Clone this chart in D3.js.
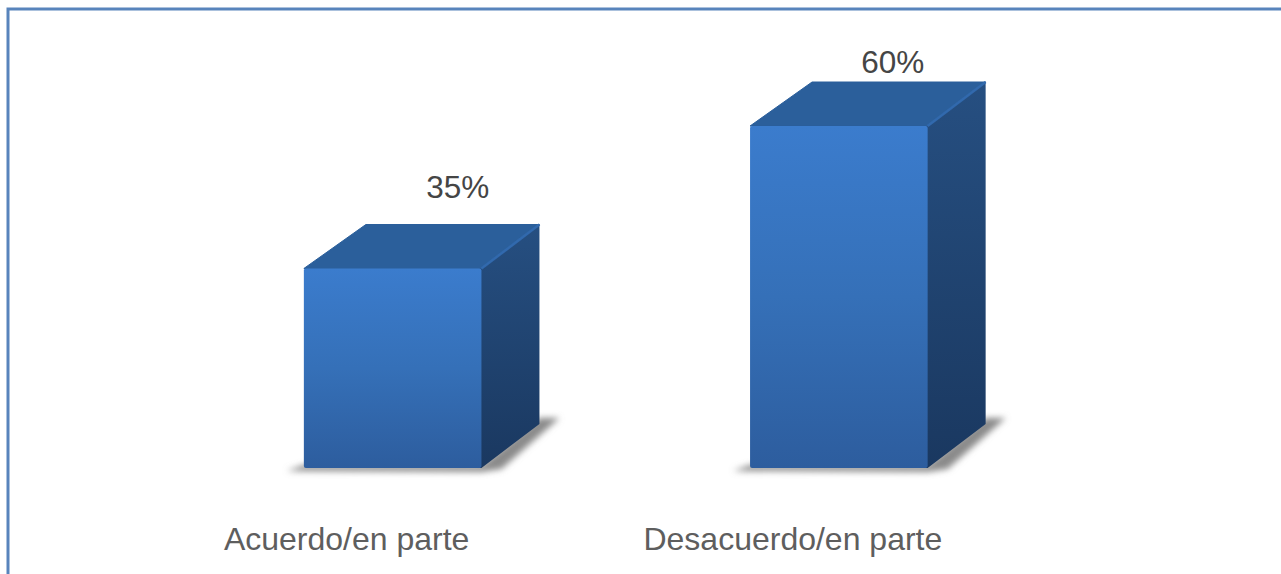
<!DOCTYPE html>
<html>
<head>
<meta charset="utf-8">
<script src="https://cdn.jsdelivr.net/npm/d3@7"></script>
<style>
  html, body { margin: 0; padding: 0; background: #fff; overflow: hidden; }
  text { font-family: "Liberation Sans", Arial, sans-serif; }
</style>
</head>
<body>
<script>
'use strict';

const categories = ["Acuerdo/en parte", "Desacuerdo/en parte"];
const percents = [35, 60];

(function() {

  const width = 1281, height = 574;
  const depthX = 58, depthY = 44; // how far the 3d box goes back
  const labelShift = -46;         // category labels sit left of the boxes
  // the two value labels don't sit at the same place over their boxes
  const valueLabelX = [65, 54];
  const valueLabelY = [198, 73];

  const svg = d3.select('body')
    .append('svg')
    .attr('width', width)
    .attr('height', height)
    .style('display', 'block');

  const defs = svg.append('defs');

  function addGradient(id, stops) {
    const g = defs.append('linearGradient')
      .attr('id', id)
      .attr('x1', 0).attr('y1', 0)
      .attr('x2', 0).attr('y2', 1);
    stops.forEach((s) => {
      g.append('stop').attr('offset', s[0]).attr('stop-color', s[1]);
    });
  }
  addGradient('frontFill', [[0, '#3b7ccd'], [0.5, '#3570b8'], [1, '#2d5d9e']]);
  addGradient('sideFill', [[0, '#264f81'], [1, '#1a3860']]);

  defs.append('filter')
    .attr('id', 'shadowBlur')
    .attr('x', '-20%').attr('y', '-20%')
    .attr('width', '140%').attr('height', '140%')
    .append('feGaussianBlur')
    .attr('stdDeviation', 3);

  defs.append('filter')
    .attr('id', 'edgeSoft')
    .append('feGaussianBlur')
    .attr('stdDeviation', 0.5);

  // outer frame, right and bottom run off the picture
  svg.append('rect')
    .attr('x', 8)
    .attr('y', 9)
    .attr('width', width + 20)
    .attr('height', height + 20)
    .attr('fill', '#fff')
    .attr('stroke', '#5884bc')
    .attr('stroke-width', 3);

  const x = d3.scaleBand()
    .domain(categories)
    .range([170, 1061.5])
    .paddingInner(0.602)
    .paddingOuter(0.3);

  const y = d3.scaleLinear()
    .domain([0, 60])
    .range([468, 126]);

  const line = d3.line();
  const poly = (pts) => line(pts) + 'Z';

  const bars = svg.selectAll('.bar')
    .data(percents)
    .enter()
    .append('g')
      .attr('class', 'bar');

  // floor shadow
  bars.append('path')
    .attr('d', (d, i) => {
      const l = x(categories[i]), r = l + x.bandwidth(), b = y(0);
      return poly([[l - 17, b + 3], [l, b - 3], [r, b - 3], [r + depthX, b - depthY - 6],
        [r + depthX + 20, b - depthY - 6], [r + 20, b + 1], [r, b + 4]]);
    })
    .attr('fill', '#8a8a8a')
    .attr('filter', 'url(#shadowBlur)');

  // top face
  bars.append('path')
    .attr('d', (d, i) => {
      const l = x(categories[i]), r = l + x.bandwidth(), t = y(d);
      return poly([[l, t], [l + depthX + 4, t - depthY], [r + depthX, t - depthY], [r, t]]);
    })
    .attr('fill', '#2b5f9b')
    .attr('stroke', '#2b5f9b')
    .attr('stroke-width', 1)
    .attr('stroke-linejoin', 'round');

  // side face, starts a bit under the front so no seam shows
  bars.append('path')
    .attr('d', (d, i) => {
      const r = x(categories[i]) + x.bandwidth(), t = y(d), b = y(0);
      return poly([[r - 2, t], [r, t], [r + depthX, t - depthY], [r + depthX, b - depthY], [r, b], [r - 2, b]]);
    })
    .attr('fill', 'url(#sideFill)');

  // lighter bevel along the top right edge
  bars.append('path')
    .attr('d', (d, i) => {
      const r = x(categories[i]) + x.bandwidth(), t = y(d);
      return line([[r, t], [r + depthX, t - depthY]]);
    })
    .attr('stroke', '#3069ad')
    .attr('stroke-width', 2.5)
    .attr('fill', 'none')
    .attr('filter', 'url(#edgeSoft)');

  // front face
  bars.append('rect')
    .attr('x', (d, i) => x(categories[i]))
    .attr('y', (d) => y(d))
    .attr('width', x.bandwidth())
    .attr('height', (d) => y(0) - y(d))
    .attr('rx', 2)
    .attr('fill', 'url(#frontFill)');

  // value labels
  svg.selectAll('.value')
    .data(percents)
    .enter()
    .append('text')
      .attr('class', 'value')
      .attr('x', (d, i) => x(categories[i]) + x.bandwidth() / 2 + valueLabelX[i])
      .attr('y', (d, i) => valueLabelY[i])
      .attr('text-anchor', 'middle')
      .style('font-size', '31.5px')
      .attr('fill', '#454545')
      .text((d) => d + '%');

  // category labels
  const xAxis = d3.axisBottom(x).tickSize(0).tickPadding(59);
  svg.append('g')
    .attr('transform', 'translate(' + labelShift + ',' + y(0) + ')')
    .call(xAxis)
    .call((g) => g.select('.domain').remove())
    .call((g) => g.selectAll('text')
      .style('font-family', '"Liberation Sans", Arial, sans-serif')
      .style('font-size', '32px')
      .attr('fill', '#5e5e5e'));

})();
</script>
</body>
</html>
